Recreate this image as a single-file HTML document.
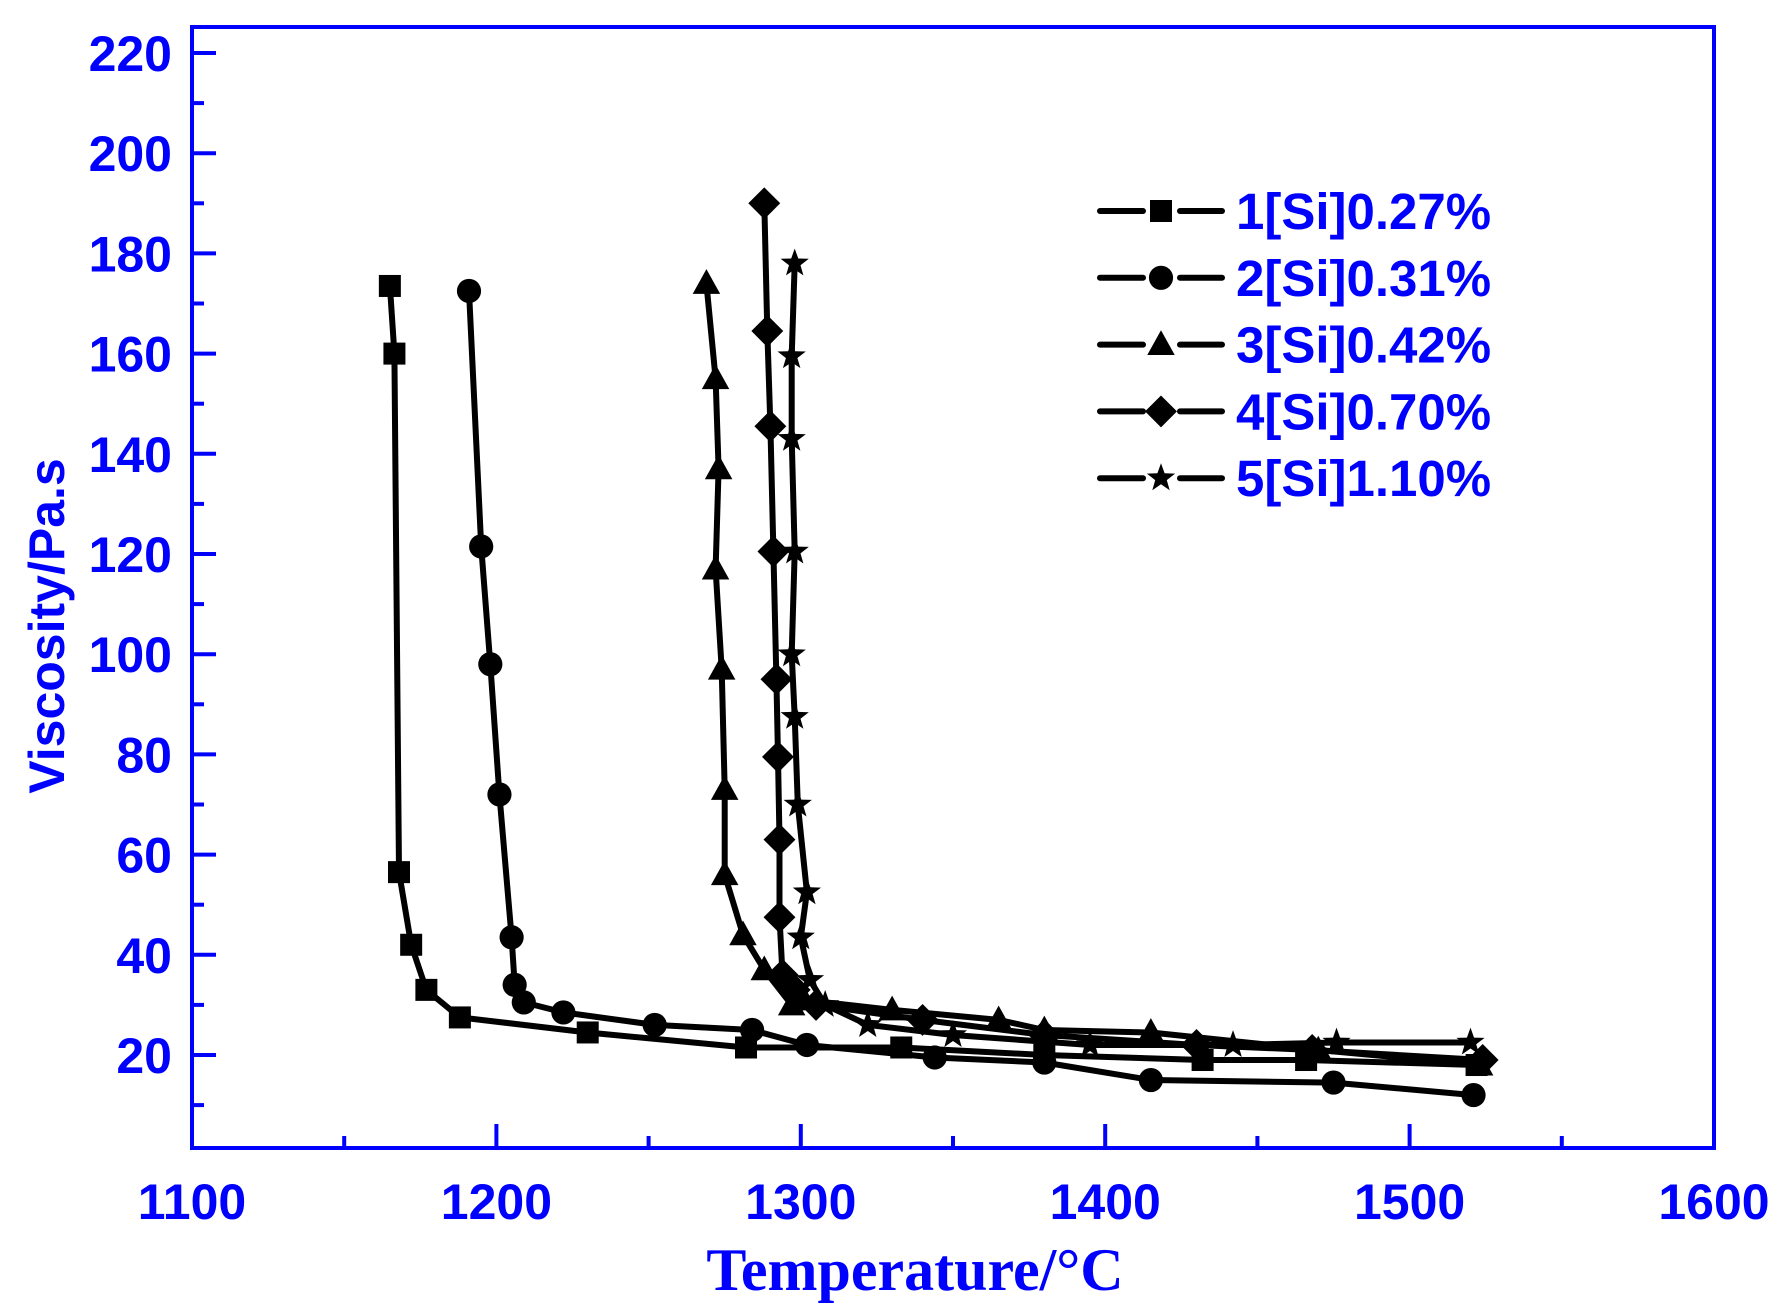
<!DOCTYPE html>
<html><head><meta charset="utf-8"><style>
html,body{margin:0;padding:0;background:#fff}
svg{display:block}
.tk{font-family:"Liberation Sans",sans-serif;font-weight:bold;font-size:50px;fill:#0000ff}
.lg{font-family:"Liberation Sans",sans-serif;font-weight:bold;font-size:51px;fill:#0000ff}
</style></head><body>
<svg id="chart" width="1791" height="1310" viewBox="0 0 1791 1310">
<g id="plot"></g>
<text x="915" y="1290" text-anchor="middle" style="font-family:'Liberation Serif',serif;font-weight:bold;font-size:60px;fill:#0000ff">Temperature/°C</text>
<text transform="translate(64,626) rotate(-90)" text-anchor="middle" style="font-family:'Liberation Sans',sans-serif;font-weight:bold;font-size:50px;fill:#0000ff">Viscosity/Pa.s</text>
</svg>
<script>
const xTicks=[1100,1200,1300,1400,1500,1600];
const yTicks=[20,40,60,80,100,120,140,160,180,200,220];
const seriesNames=["1[Si]0.27%","2[Si]0.31%","3[Si]0.42%","4[Si]0.70%","5[Si]1.10%"];
const markers=["square","circle","triangle","diamond","star"];
const s1x=[1165,1166.5,1168,1172,1177,1188,1230,1282,1333,1380,1432,1466,1522];
const s1y=[173.5,160,56.5,42,33,27.5,24.5,21.5,21.5,20,19,19,18];
const s2x=[1191,1195,1198,1201,1205,1206,1209,1222,1252,1284,1302,1344,1380,1415,1475,1521];
const s2y=[172.5,121.5,98,72,43.5,34,30.5,28.5,26,25,22,19.5,18.5,15,14.5,12];
const s3x=[1269,1272,1273,1272,1274,1275,1275,1281,1288,1297,1301,1330,1365,1380,1415,1470,1523];
const s3y=[174,155,137,117,97,73,56,44,37,30,31,29,27,25,24.5,21,18];
const s4x=[1288,1289,1290,1291,1292,1292.5,1293,1293,1294,1298,1305,1340,1380,1430,1468,1524];
const s4y=[190,164.5,145.5,120.5,95,79.5,63,47.5,36,33,30,27,24,22,21,19];
const s5x=[1298,1297,1297,1298,1297,1298,1299,1302,1300,1303,1308,1322,1350,1395,1442,1476,1520];
const s5y=[178,159.5,143,120.5,100,87.5,70,52.5,43.5,35,30,26,24,22,22,22.5,22.5];
const XS=[s1x,s2x,s3x,s4x,s5x], YS=[s1y,s2y,s3y,s4y,s5y];

const L=192,R=1714,T=27,B=1148;
function sx(v){return L+(v-1100)*(R-L)/500;}
function sy(v){return 1055-(v-20)*(1055-53)/200;}
const NS="http://www.w3.org/2000/svg";
const plot=document.getElementById('plot');
function mk(tag,attrs,parent){const e=document.createElementNS(NS,tag);for(const k in attrs)e.setAttribute(k,attrs[k]);(parent||plot).appendChild(e);return e;}
function marker(type,x,y,r,parent){
  let e;
  if(type==="square") e=mk('rect',{x:x-r,y:y-r,width:2*r,height:2*r,fill:'#000'},parent);
  else if(type==="circle") e=mk('circle',{cx:x,cy:y,r:r*1.1,fill:'#000'},parent);
  else if(type==="triangle") e=mk('polygon',{points:`${x},${y-r*1.3} ${x+r*1.25},${y+r*0.95} ${x-r*1.25},${y+r*0.95}`,fill:'#000'},parent);
  else if(type==="diamond") e=mk('polygon',{points:`${x},${y-r*1.45} ${x+r*1.45},${y} ${x},${y+r*1.45} ${x-r*1.45},${y}`,fill:'#000'},parent);
  else {let p=[];for(let i=0;i<10;i++){const a=-Math.PI/2+i*Math.PI/5;const rr=i%2?r*0.55:r*1.35;p.push((x+rr*Math.cos(a)).toFixed(1)+","+(y+rr*Math.sin(a)).toFixed(1));}
    e=mk('polygon',{points:p.join(' '),fill:'#000'},parent);}
  return e;
}
for(let s=0;s<5;s++){
  const g=mk('g',{});
  
  
  const pts=XS[s].map((v,i)=>sx(v).toFixed(1)+","+sy(YS[s][i]).toFixed(1)).join(' ');
  mk('polyline',{points:pts,fill:'none',stroke:'#000','stroke-width':6,'stroke-linejoin':'round'},g);
  for(let i=0;i<XS[s].length;i++){
    const m=marker(markers[s],sx(XS[s][i]),sy(YS[s][i]),11,g);
    
    
  }
}
const fr=mk('rect',{x:L,y:T,width:R-L,height:B-T,fill:'none',stroke:'#0000ff','stroke-width':4});


for(let v=1100;v<=1600;v+=50){
  const major=(v%100===0);
  mk('line',{x1:sx(v),x2:sx(v),y1:B,y2:B-(major?24:12),stroke:'#0000ff','stroke-width':4});
}
xTicks.forEach(v=>{
  const t=mk('text',{x:sx(v),y:1219,'text-anchor':'middle',class:'tk'});
  t.textContent=v;
  
  
});
for(let v=10;v<=220;v+=10){
  const major=(v%20===0);
  mk('line',{x1:L,x2:L+(major?24:12),y1:sy(v),y2:sy(v),stroke:'#0000ff','stroke-width':4});
}
yTicks.forEach(v=>{
  const t=mk('text',{x:172,y:sy(v)+18,'text-anchor':'end',class:'tk'});
  t.textContent=v;
  
  
});
const lg=mk('g',{});


seriesNames.forEach((n,i)=>{
  const y=211+i*66.8;
  const e=mk('g',{},lg);
  
  
  mk('line',{x1:1100,x2:1143,y1:y,y2:y,stroke:'#000','stroke-width':6,'stroke-linecap':'round'},e);
  mk('line',{x1:1180,x2:1222,y1:y,y2:y,stroke:'#000','stroke-width':6,'stroke-linecap':'round'},e);
  marker(markers[i],1161,y,11,e);
  const t=mk('text',{x:1236,y:y+18,class:'lg'},e);
  t.textContent=n;
});
</script>
</body></html>
